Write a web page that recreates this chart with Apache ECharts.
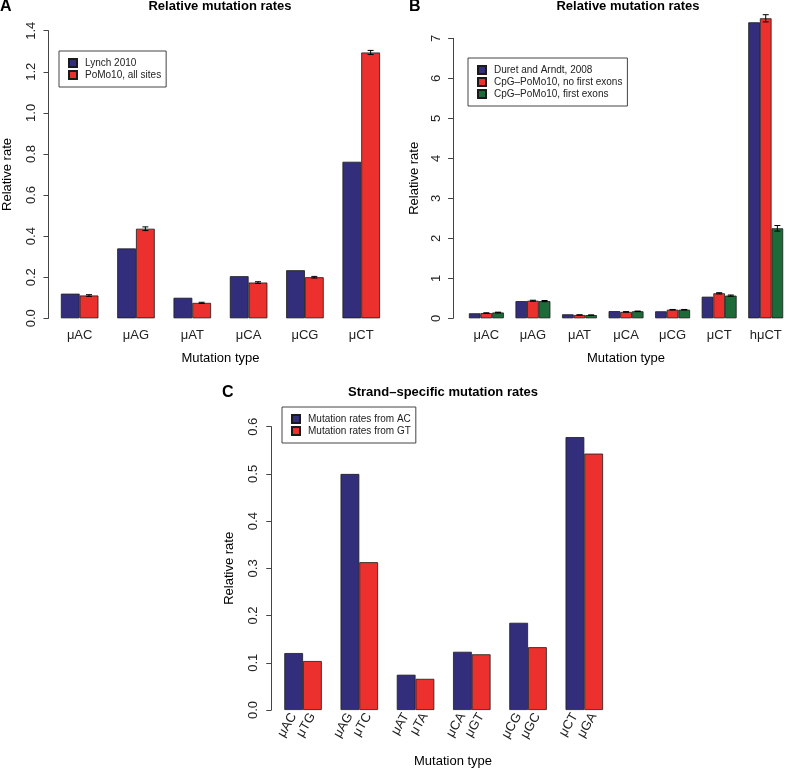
<!DOCTYPE html>
<html><head><meta charset="utf-8">
<script src="https://cdn.jsdelivr.net/npm/echarts@6/dist/echarts.min.js"></script>
<style>html,body{margin:0;padding:0;background:#fff}#c{width:789px;height:769px}</style>
</head><body><div id="c"></div>
<script>
// ---------- Panel A ----------
const catsA = ['μAC','μAG','μAT','μCA','μCG','μCT'];
const lynch2010 = [0.120,0.340,0.100,0.205,0.234,0.762];
const pomoAll = [0.111,0.436,0.075,0.174,0.200,1.294];
const pomoAllErr = [0.004,0.009,0.003,0.004,0.004,0.010];
const yTicksA = [0,0.2,0.4,0.6,0.8,1.0,1.2,1.4];
// ---------- Panel B ----------
const catsB = ['μAC','μAG','μAT','μCA','μCG','μCT','hμCT'];
const duret2008 = [0.125,0.430,0.100,0.180,0.175,0.540,7.40];
const cpgNoFirst = [0.130,0.440,0.083,0.160,0.215,0.625,7.50];
const cpgNoFirstErr = [0.008,0.012,0.004,0.006,0.006,0.015,0.09];
const cpgFirst = [0.145,0.430,0.080,0.175,0.215,0.567,2.25];
const cpgFirstErr = [0.008,0.015,0.004,0.006,0.006,0.015,0.07];
const yTicksB = [0,1,2,3,4,5,6,7];
// ---------- Panel C ----------
const labelsFromAC = ['μAC','μAG','μAT','μCA','μCG','μCT'];
const labelsFromGT = ['μTG','μTC','μTA','μGT','μGC','μGA'];
const ratesFromAC = [0.1206,0.4999,0.0747,0.1233,0.1847,0.578];
const ratesFromGT = [0.1037,0.313,0.066,0.118,0.133,0.543];
const yTicksC = [0,0.1,0.2,0.3,0.4,0.5,0.6];

const BLUE='#332e7c', RED='#ec302d', GREEN='#1e6b3a';
const FONT='"Liberation Sans", Arial, Helvetica, sans-serif';
const BORDER={borderColor:'#1a1a1a',borderWidth:0.8};

// Panel C category layout: [blue bar, red bar, gap] per group
const catsC=[], blueC=[], redC=[];
labelsFromAC.forEach((l,g)=>{
  catsC.push(l, labelsFromGT[g], '');
  blueC.push(ratesFromAC[g],'-','-');
  redC.push('-',ratesFromGT[g],'-');
});

function errSeries(xi, yi, vals, errs, offFrac){
  return {type:'custom', xAxisIndex:xi, yAxisIndex:yi, clip:false, silent:true, z:10,
    data: vals.map((v,i)=>[i, v-errs[i], v+errs[i]]),
    encode:{x:0,y:[1,2]},
    renderItem(params, api){
      const lo=api.coord([api.value(0),api.value(1)]);
      const hi=api.coord([api.value(0),api.value(2)]);
      const band=api.size([1,0])[0];
      const x=lo[0]+band*offFrac, c=3;
      const st={stroke:'#000',lineWidth:1};
      return {type:'group',children:[
        {type:'line',shape:{x1:x,y1:lo[1],x2:x,y2:hi[1]},style:st},
        {type:'line',shape:{x1:x-c,y1:lo[1],x2:x+c,y2:lo[1]},style:st},
        {type:'line',shape:{x1:x-c,y1:hi[1],x2:x+c,y2:hi[1]},style:st}]};
    }};
}

function yAx(gi, ticks, dec, offset, margin, nameGap){
  return {type:'value', gridIndex:gi, min:ticks[0], max:ticks[ticks.length-1],
    interval:ticks[1]-ticks[0], offset:offset,
    name:'Relative rate', nameLocation:'middle', nameGap:nameGap, nameRotate:90,
    nameTextStyle:{fontFamily:FONT,fontSize:13,color:'#000'},
    axisLine:{show:true,lineStyle:{color:'#444',width:1}},
    axisTick:{show:true,length:5,lineStyle:{color:'#444'}},
    splitLine:{show:false},
    axisLabel:{rotate:90,margin:margin,fontFamily:FONT,fontSize:13,color:'#222',
      formatter:v=>Number(v).toFixed(dec)}};
}
function xAx(gi, cats, nameGap, extra){
  return Object.assign({type:'category', gridIndex:gi, data:cats,
    name:'Mutation type', nameLocation:'middle', nameGap:nameGap,
    nameTextStyle:{fontFamily:FONT,fontSize:13,color:'#000'},
    axisLine:{show:false}, axisTick:{show:false}, splitLine:{show:false},
    axisLabel:{interval:0,margin:11,fontFamily:FONT,fontSize:13,color:'#222'}}, extra||{});
}
function legend(names, left, top){
  return {data:names, left:left, top:top, orient:'vertical', itemWidth:8, itemHeight:8, itemGap:0,
    borderColor:'#444', borderWidth:1, borderRadius:0, padding:[6,5,6,9], icon:'rect',
    selectedMode:false,
    textStyle:{fontFamily:FONT,fontSize:10,color:'#222',lineHeight:12,padding:[0,0,0,3]}};
}
function txt(t,x,y,size,bold,align){
  return {type:'text',x:x,y:y,silent:true,style:{text:t,fill:'#000',
    font:(bold?'bold ':'')+size+'px '+FONT, textAlign:align||'center', textVerticalAlign:'middle'}};
}

const chart=echarts.init(document.getElementById('c'),null,{renderer:'canvas'});
chart.setOption({
  animation:false,
  textStyle:{fontFamily:FONT},
  grid:[
    {left:50.6, top:30.7, width:338.8, height:287.6},
    {left:463.1, top:38.3, width:330.4, height:280},
    {left:284.3, top:426.7, width:337.5, height:283.6}
  ],
  xAxis:[
    xAx(0,catsA,34),
    xAx(1,catsB,34),
    xAx(2,catsC,45,{axisLabel:{interval:0,rotate:60,margin:4,fontFamily:FONT,fontSize:13,color:'#222'}})
  ],
  yAxis:[
    yAx(0,yTicksA,1,3,11,34.5),
    yAx(1,yTicksB,0,10,10,32.5),
    yAx(2,yTicksC,1,13,11,35.5)
  ],
  legend:[
    legend(['Lynch 2010','PoMo10, all sites'],59,51),
    legend(['Duret and Arndt, 2008','CpG–PoMo10, no first exons','CpG–PoMo10, first exons'],468,58),
    legend(['Mutation rates from AC','Mutation rates from GT'],282,407)
  ],
  graphic:[
    txt('A',0,7,16,true,'left'),
    txt('Relative mutation rates',220,6,13,true),
    txt('B',409,7,16,true,'left'),
    txt('Relative mutation rates',628,6,13,true),
    txt('C',222,393,16,true,'left'),
    txt('Strand–specific mutation rates',443,392,13,true)
  ],
  series:[
    {name:'Lynch 2010',type:'bar',xAxisIndex:0,yAxisIndex:0,data:lynch2010,barGap:'0%',barCategoryGap:'33.333%',itemStyle:Object.assign({color:BLUE},BORDER)},
    {name:'PoMo10, all sites',type:'bar',xAxisIndex:0,yAxisIndex:0,data:pomoAll,barGap:'0%',barCategoryGap:'33.333%',itemStyle:Object.assign({color:RED},BORDER)},
    errSeries(0,0,pomoAll,pomoAllErr,1/6),
    {name:'Duret and Arndt, 2008',type:'bar',xAxisIndex:1,yAxisIndex:1,clip:false,data:duret2008,barGap:'0%',barCategoryGap:'25%',itemStyle:Object.assign({color:BLUE},BORDER)},
    {name:'CpG–PoMo10, no first exons',type:'bar',xAxisIndex:1,yAxisIndex:1,clip:false,data:cpgNoFirst,barGap:'0%',barCategoryGap:'25%',itemStyle:Object.assign({color:RED},BORDER)},
    {name:'CpG–PoMo10, first exons',type:'bar',xAxisIndex:1,yAxisIndex:1,clip:false,data:cpgFirst,barGap:'0%',barCategoryGap:'25%',itemStyle:Object.assign({color:GREEN},BORDER)},
    errSeries(1,1,cpgNoFirst,cpgNoFirstErr,0),
    errSeries(1,1,cpgFirst,cpgFirstErr,1/4),
    {name:'Mutation rates from AC',type:'bar',xAxisIndex:2,yAxisIndex:2,data:blueC,barGap:'-100%',barCategoryGap:'0%',itemStyle:Object.assign({color:BLUE},BORDER)},
    {name:'Mutation rates from GT',type:'bar',xAxisIndex:2,yAxisIndex:2,data:redC,barGap:'-100%',barCategoryGap:'0%',itemStyle:Object.assign({color:RED},BORDER)}
  ]
});
</script></body></html>
